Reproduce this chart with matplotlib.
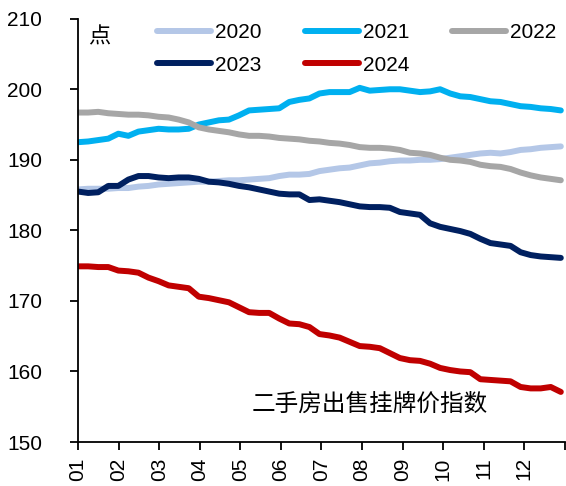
import numpy as np
import matplotlib
matplotlib.use('Agg')
import matplotlib.pyplot as plt

plt.rcParams['font.family'] = ['Liberation Sans', 'Noto Sans CJK SC', 'DejaVu Sans']
plt.rcParams['font.size'] = 15

# month tick labels (weekly-ish readings, 49 points across the year)
months = ['01', '02', '03', '04', '05', '06', '07', '08', '09', '10', '11', '12']

y2020 = [185.8, 185.9, 185.9, 185.9, 186.0, 186.0, 186.2, 186.3, 186.5, 186.6,
         186.7, 186.8, 186.9, 186.9, 187.0, 187.1, 187.1, 187.2, 187.3, 187.4,
         187.7, 187.9, 187.9, 188.0, 188.4, 188.6, 188.8, 188.9, 189.2, 189.5,
         189.6, 189.8, 189.9, 189.9, 190.0, 190.0, 190.1, 190.3, 190.5, 190.7,
         190.9, 191.0, 190.9, 191.1, 191.4, 191.5, 191.7, 191.8, 191.9]

y2021 = [192.5, 192.6, 192.8, 193.0, 193.7, 193.4, 194.0, 194.2, 194.4, 194.3,
         194.3, 194.4, 195.0, 195.3, 195.6, 195.7, 196.3, 197.0, 197.1, 197.2,
         197.3, 198.2, 198.5, 198.7, 199.4, 199.6, 199.6, 199.6, 200.2, 199.8,
         199.9, 200.0, 200.0, 199.8, 199.6, 199.7, 200.0, 199.4, 199.0, 198.9,
         198.6, 198.3, 198.2, 197.9, 197.6, 197.5, 197.3, 197.2, 197.0]

y2022 = [196.7, 196.7, 196.8, 196.6, 196.5, 196.4, 196.4, 196.3, 196.1, 196.0,
         195.7, 195.3, 194.6, 194.3, 194.1, 193.9, 193.6, 193.4, 193.4, 193.3,
         193.1, 193.0, 192.9, 192.7, 192.6, 192.4, 192.3, 192.1, 191.8, 191.7,
         191.7, 191.6, 191.4, 191.0, 190.9, 190.7, 190.3, 190.0, 189.9, 189.7,
         189.3, 189.1, 189.0, 188.7, 188.2, 187.8, 187.5, 187.3, 187.1]

y2023 = [185.5, 185.3, 185.4, 186.3, 186.3, 187.2, 187.7, 187.7, 187.5, 187.4,
         187.5, 187.5, 187.3, 186.9, 186.8, 186.6, 186.3, 186.1, 185.8, 185.5,
         185.2, 185.1, 185.1, 184.3, 184.4, 184.2, 184.0, 183.7, 183.4, 183.3,
         183.3, 183.2, 182.6, 182.4, 182.2, 181.0, 180.5, 180.2, 179.9, 179.5,
         178.8, 178.2, 178.0, 177.8, 176.9, 176.5, 176.3, 176.2, 176.1]

y2024 = [174.9, 174.9, 174.8, 174.8, 174.3, 174.2, 174.0, 173.3, 172.8, 172.2,
         172.0, 171.8, 170.6, 170.4, 170.1, 169.8, 169.1, 168.4, 168.3, 168.3,
         167.5, 166.8, 166.7, 166.3, 165.3, 165.1, 164.8, 164.2, 163.6, 163.5,
         163.3, 162.6, 161.9, 161.6, 161.5, 161.1, 160.5, 160.2, 160.0, 159.9,
         158.9, 158.8, 158.7, 158.6, 157.8, 157.6, 157.6, 157.8, 157.1]

series = [('2020', y2020, '#B4C7E7'),
          ('2021', y2021, '#00B0F0'),
          ('2022', y2022, '#A6A6A6'),
          ('2023', y2023, '#002060'),
          ('2024', y2024, '#C00000')]

x = np.linspace(0, 11.9, len(y2020))

fig = plt.figure(figsize=(5.66, 4.86), dpi=100)
ax = fig.add_axes([0.138, 0.0905, 0.86, 0.871])

lines = {}
for name, vals, color in series:
    lines[name], = ax.plot(x, vals, color=color, linewidth=4.3, label=name,
                           solid_capstyle='round')

ax.set_xlim(0, 12)
ax.set_ylim(150, 210)
ax.set_yticks(range(150, 211, 10))
ax.set_xticks(range(13))
ax.set_xticklabels(months + [''], rotation=90)

for side in ['top', 'right']:
    ax.spines[side].set_visible(False)
for side in ['left', 'bottom']:
    ax.spines[side].set_linewidth(1.3)
ax.tick_params(axis='y', direction='out', length=6, width=1.3, pad=20, labelsize=15)
ax.tick_params(axis='x', direction='out', length=6, width=1.3, pad=5, labelsize=15)

ax.text(0.02, 0.955, '点', transform=ax.transAxes, fontsize=16, va='center', ha='left')
ax.text(0.60, 0.088, '二手房出售挂牌价指数', transform=ax.transAxes, fontsize=17,
        va='center', ha='center')

# legend filled row by row: 2020 2021 2022 / 2023 2024
order = ['2020', '2023', '2021', '2024', '2022']
leg = fig.legend([lines[k] for k in order], order, loc='upper left',
                 bbox_to_anchor=(157 / 566, 1 - 23 / 486),
                 ncol=3, frameon=False, fontsize=15, handlelength=2.6,
                 handletextpad=0.2, columnspacing=2.05, labelspacing=0.65,
                 borderpad=0, borderaxespad=0)

fig.savefig('out.png', dpi=100)
